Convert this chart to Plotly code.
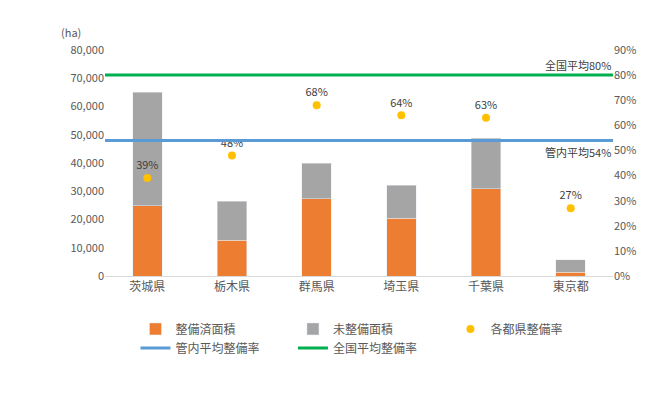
import plotly.graph_objects as go

prefs = ["茨城県", "栃木県", "群馬県", "埼玉県", "千葉県", "東京都"]
done = [24800, 12700, 27300, 20500, 30800, 1400]
total = [65100, 26500, 40000, 32200, 48800, 5700]
rate = [39, 48, 68, 64, 63, 27]
kannai = 54
zenkoku = 80
undone = [t - d for t, d in zip(total, done)]

font = "Noto Sans CJK JP"
fig = go.Figure()
fig.add_bar(x=prefs, y=done, name="整備済面積", marker_color="#ED7D31", width=0.35)
fig.add_bar(x=prefs, y=undone, name="未整備面積", marker_color="#A5A5A5", width=0.35)
fig.add_scatter(x=prefs, y=rate, yaxis="y2", mode="markers+text", name="各都県整備率",
                marker=dict(color="#FFC000", size=8), text=[f"{r}%" for r in rate],
                textposition="top center", textfont=dict(size=11, color="#404040"))
fig.add_scatter(x=[-0.5, 5.5], y=[kannai]*2, yaxis="y2", xaxis="x2", mode="lines",
                name="管内平均整備率", line=dict(color="#5B9BD5", width=3))
fig.add_scatter(x=[-0.5, 5.5], y=[zenkoku]*2, yaxis="y2", xaxis="x2", mode="lines",
                name="全国平均整備率", line=dict(color="#00B050", width=3))
fig.add_annotation(x=5.5, y=zenkoku, xref="x2", yref="y2", text=f"全国平均{zenkoku}%",
                   showarrow=False, xanchor="right", yanchor="bottom", font=dict(size=11, color="#404040"))
fig.add_annotation(x=5.5, y=kannai, xref="x2", yref="y2", text=f"管内平均{kannai}%",
                   showarrow=False, xanchor="right", yanchor="top", yshift=-2, font=dict(size=11, color="#404040"))
fig.add_annotation(x=0, y=1, xref="paper", yref="paper", text="(ha)", showarrow=False,
                   xanchor="right", yanchor="bottom", xshift=-22, yshift=8, font=dict(size=11, color="#595959"))
fig.update_layout(
    width=656, height=410, barmode="stack", plot_bgcolor="white", paper_bgcolor="white",
    font=dict(family=font, size=11, color="#595959"),
    margin=dict(l=97, r=51, t=42, b=142),
    xaxis=dict(showline=True, linecolor="#D9D9D9", tickfont=dict(size=12)),
    xaxis2=dict(overlaying="x", range=[-0.5, 5.5], visible=False),
    yaxis=dict(range=[0, 80000], dtick=10000, tickformat=",", showgrid=False),
    yaxis2=dict(overlaying="y", side="right", range=[0, 90], dtick=10, ticksuffix="%", showgrid=False),
    legend=dict(orientation="h", x=0.06, y=-0.17, xanchor="left", yanchor="top",
                entrywidth=0.31, entrywidthmode="fraction", tracegroupgap=10,
                font=dict(size=12, color="#595959"), traceorder="normal"),
    showlegend=True,
)
fig.write_html("out.html")
